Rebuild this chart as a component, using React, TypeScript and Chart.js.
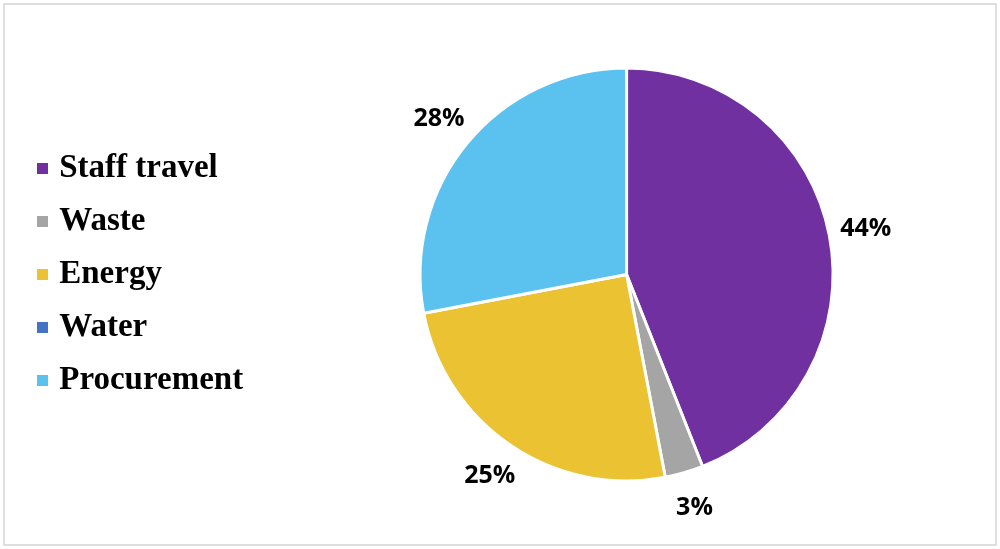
import React, { useEffect, useRef } from "react";
import { Chart, registerables } from "chart.js";

Chart.register(...registerables);

const categories = ["Staff travel", "Waste", "Energy", "Water", "Procurement"];
const shares = [44, 3, 25, 0, 28];
const colors = ["#7030A0", "#A5A5A5", "#EAC232", "#4472C4", "#5BC2F0"];

const pctLabels = {
  id: "pctLabels",
  afterDatasetsDraw(chart: any) {
    const meta = chart.getDatasetMeta(0);
    const ctx = chart.ctx;
    ctx.save();
    ctx.font = "bold 25px 'Open Sans'";
    ctx.fillStyle = "#000";
    ctx.textAlign = "center";
    ctx.textBaseline = "middle";
    meta.data.forEach((arc: any, i: number) => {
      const v = shares[i];
      if (!v) return;
      const { x, y, startAngle, endAngle, outerRadius } = arc.getProps(
        ["x", "y", "startAngle", "endAngle", "outerRadius"],
        true
      );
      const mid = (startAngle + endAngle) / 2;
      const r = outerRadius + 37;
      ctx.fillText(v + "%", x + Math.cos(mid) * r, y + Math.sin(mid) * r);
    });
    ctx.restore();
  },
};

export default function App() {
  const ref = useRef<HTMLCanvasElement>(null);
  useEffect(() => {
    if (!ref.current) return;
    const baseGen = (Chart as any).overrides.pie.plugins.legend.labels.generateLabels;
    const chart = new Chart(ref.current, {
      type: "pie",
      data: {
        labels: categories,
        datasets: [
          {
            data: shares,
            backgroundColor: colors,
            borderColor: "#ffffff",
            borderWidth: 3,
          },
        ],
      },
      options: {
        animation: false,
        responsive: true,
        maintainAspectRatio: false,
        layout: { padding: { left: 22.25, right: -8.75, top: 66.5, bottom: 66.5 } },
        plugins: {
          tooltip: { enabled: false },
          legend: {
            position: "left",
            align: "center",
            labels: {
              boxWidth: 0.5,
              boxHeight: 0.5,
              padding: 20,
              color: "#000",
              font: { family: "'Liberation Serif', 'Times New Roman', serif", size: 33, weight: "bold" },
              generateLabels: (c: any) =>
                baseGen(c).map((it: any) => ({
                  ...it,
                  strokeStyle: it.fillStyle,
                  lineWidth: 10.5,
                  lineJoin: "miter",
                })),
            },
          },
        },
      },
      plugins: [pctLabels],
    });
    return () => chart.destroy();
  }, []);
  return (
    <div style={{ position: "absolute", left: 0, top: 0, width: 1000, height: 549, background: "#fff" }}>
      <canvas ref={ref} />
      <div
        style={{
          position: "absolute",
          left: 3,
          top: 3,
          width: 990,
          height: 539,
          border: "2px solid #dedede",
          pointerEvents: "none",
        }}
      />
    </div>
  );
}
